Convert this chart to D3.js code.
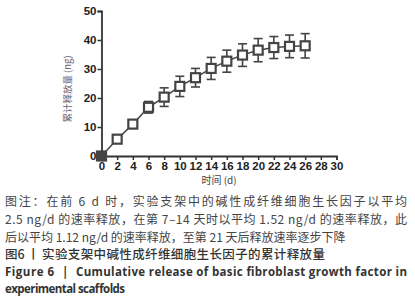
<!DOCTYPE html>
<html>
<head>
<meta charset="utf-8">
<script src="https://cdn.jsdelivr.net/npm/d3@7/dist/d3.min.js"></script>
<style>
body { margin:0; background:#fff; }
svg { display:block; }
</style>
</head>
<body>
<div id="chart"></div>
<script>
var days = [0,2,4,6,8,10,12,14,16,18,20,22,24,26];
var release = [0,5.8,11,16.8,20.3,24,27,30.2,32.7,34.8,36.5,37.4,37.8,38];
var errs = [0,0.6,1.2,2,3.2,3.5,3.2,3.8,3.8,3.9,4,3.8,3.9,4.2];
var xTicks = [0,2,4,6,8,10,12,14,16,18,20,22,24,26,28,30];
var yTicks = [0,10,20,30,40,50];
var captionLines = [
  "图注：在前 6 d 时，实验支架中的碱性成纤维细胞生长因子以平均",
  "2.5 ng/d 的速率释放，在第 7–14 天时以平均 1.52 ng/d 的速率释放，此",
  "后以平均 1.12 ng/d 的速率释放，至第 21 天后释放速率逐步下降"
];
var figTitleCn = ["图6", "丨", "实验支架中碱性成纤维细胞生长因子的累计释放量"];
var figTitleEn = ["Figure 6", "|", "Cumulative release of basic fibroblast growth factor in", "experimental scaffolds"];

var width = 415, height = 300;
var svg = d3.select("#chart").append("svg").attr("width", width).attr("height", height);

var x = d3.scaleLinear().domain([0,30]).range([101.5, 336.5]);
var y = d3.scaleLinear().domain([0,50]).range([156, 11]);
var axisColor = "#333";
var markColor = "#444";

// axes
var gx = svg.append("g").attr("transform", "translate(0,156)")
    .call(d3.axisBottom(x).tickValues(xTicks).tickSize(4).tickPadding(2));
var gy = svg.append("g").attr("transform", "translate(101.5,0)")
    .call(d3.axisLeft(y).tickValues(yTicks).tickSize(4).tickPadding(1));
[gx, gy].forEach(function(g){
  g.select(".domain").attr("stroke", axisColor).attr("stroke-width", 1.8);
  g.selectAll(".tick line").attr("stroke", axisColor).attr("stroke-width", 1.5);
  g.selectAll(".tick text").attr("fill", "#222")
    .style("font-family", "Liberation Sans, Arial, sans-serif")
    .style("font-weight", "bold").style("font-size", "11.5px");
});

// axis titles
svg.append("text").attr("x", 219).attr("y", 184).attr("text-anchor", "middle")
  .style("font-family", "Noto Sans CJK SC, sans-serif").style("font-size", "10px").attr("fill", "#444")
  .text("时间 (d)");
svg.append("text").attr("transform", "translate(71,89) rotate(-90)").attr("text-anchor", "middle")
  .style("font-family", "Noto Sans CJK SC, sans-serif").style("font-size", "9.5px").attr("fill", "#667")
  .text("累计释放量 (ng)");

var pts = days.map(function(d,i){ return {d:d, v:release[i], e:errs[i]}; });

// line
svg.append("path").datum(pts)
  .attr("fill", "none").attr("stroke", markColor).attr("stroke-width", 1.5)
  .attr("d", d3.line().x(function(p){ return x(p.d); }).y(function(p){ return y(p.v); }));

// error bars
var eb = svg.selectAll("g.err").data(pts.filter(function(p){ return p.e > 0; })).enter().append("g")
  .attr("stroke", markColor).attr("stroke-width", 1.6);
eb.append("line").attr("x1", function(p){ return x(p.d); }).attr("x2", function(p){ return x(p.d); })
  .attr("y1", function(p){ return y(p.v+p.e); }).attr("y2", function(p){ return y(p.v-p.e); });
eb.append("line").attr("x1", function(p){ return x(p.d)-4.5; }).attr("x2", function(p){ return x(p.d)+4.5; })
  .attr("y1", function(p){ return y(p.v+p.e); }).attr("y2", function(p){ return y(p.v+p.e); });
eb.append("line").attr("x1", function(p){ return x(p.d)-4.5; }).attr("x2", function(p){ return x(p.d)+4.5; })
  .attr("y1", function(p){ return y(p.v-p.e); }).attr("y2", function(p){ return y(p.v-p.e); });

// square markers
svg.selectAll("rect.pt").data(pts).enter().append("rect")
  .attr("x", function(p){ return x(p.d)-4.5; }).attr("y", function(p){ return y(p.v)-4.5; })
  .attr("width", 9).attr("height", 9)
  .attr("fill", function(p,i){ return i==0 ? markColor : "#fff"; })
  .attr("stroke", markColor).attr("stroke-width", 2.2);

// caption
var capFont = "Noto Sans CJK SC, sans-serif";
captionLines.forEach(function(t, i){
  var tx = svg.append("text").attr("x", 5).attr("y", 206 + i*18)
    .style("font-family", capFont).style("font-size", "12px").attr("fill", "#444").text(t);
  if (i < 2) tx.attr("textLength", 402).attr("lengthAdjust", "spacing");
});
function cnTitle(t, xp, len){
  var tx = svg.append("text").attr("x", xp).attr("y", 259)
    .style("font-family", capFont).style("font-size", "12.5px").style("font-weight", "500").attr("fill", "#333")
    .text(t);
  if (len) tx.attr("textLength", len).attr("lengthAdjust", "spacing");
}
cnTitle(figTitleCn[0], 5);
cnTitle(figTitleCn[1], 27);
cnTitle(figTitleCn[2], 42, 283);

function enTitle(t, xp, yp, len){
  var tx = svg.append("text").attr("x", xp).attr("y", yp)
    .style("font-family", "Open Sans, sans-serif").style("font-size", "11.5px").style("font-weight", "bold").attr("fill", "#333")
    .text(t);
  if (len) tx.attr("textLength", len).attr("lengthAdjust", "spacing");
}
enTitle(figTitleEn[0], 5, 276, 49);
enTitle(figTitleEn[1], 62, 276);
enTitle(figTitleEn[2], 76, 276, 331);
enTitle(figTitleEn[3], 5, 293, 120);
</script>
</body>
</html>
